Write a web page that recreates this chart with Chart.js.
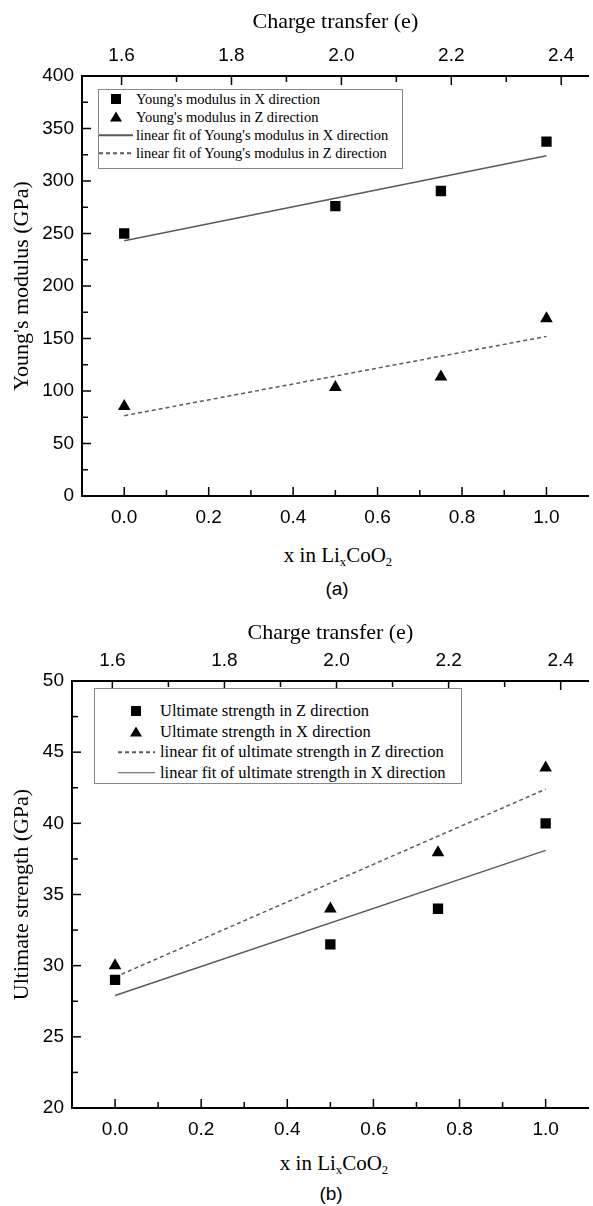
<!DOCTYPE html>
<html>
<head>
<meta charset="utf-8">
<title>Young's modulus and ultimate strength of LixCoO2</title>
<script src="https://cdn.jsdelivr.net/npm/chart.js@4.4.0/dist/chart.umd.min.js"></script>
<style>
  html, body { margin: 0; padding: 0; background: #fff; width: 593px; height: 1206px; overflow: hidden; }
  .panel { position: absolute; left: 0; width: 596px; }
  .xtitle { position: absolute; font-family: "Liberation Serif", serif; font-size: 21px; color: #000;
            transform: translate(-50%, -50%); white-space: nowrap; line-height: 1; }
  .xtitle sub { font-size: 0.6em; vertical-align: -0.35em; line-height: 0; }
  .caption { position: absolute; font-family: "Liberation Sans", Arial, sans-serif; font-size: 19px; color: #000;
             transform: translate(-50%, -50%); line-height: 1; }
  .legend { position: absolute; box-sizing: border-box; border: 1px solid #888; background: #fff;
            font-family: "Liberation Serif", serif; color: #000; }
  .legend .row { position: relative; white-space: nowrap; }
  .legend .mk { position: absolute; top: 50%; }
  .legend .txt { position: absolute; top: 50%; transform: translateY(-50%); line-height: 1; }
  .sq { width: 10px; height: 10px; background: #000; transform: translate(-50%, -50%); }
  .tri { width: 0; height: 0; border-left: 6px solid transparent; border-right: 6px solid transparent;
         border-bottom: 10px solid #000; transform: translate(-50%, -55%); }
  .ln { height: 1.5px; background: #5a5a5a; transform: translateY(-50%); }
  .dash { height: 1.5px; background: repeating-linear-gradient(to right, #5a5a5a 0 4px, transparent 4px 7px);
          transform: translateY(-50%); }
</style>
</head>
<body>

<div class="panel" style="top:0;height:530px"><canvas id="chartA"></canvas></div>
<div class="legend" id="legendA" style="left:98px;top:89px;width:305px;height:80px;font-size:14.5px"></div>
<div class="xtitle" style="left:338px;top:555px">x in Li<sub>x</sub>CoO<sub>2</sub></div>
<div class="caption" style="left:337px;top:588px">(a)</div>

<div class="panel" style="top:600px;height:542px"><canvas id="chartB"></canvas></div>
<div class="legend" id="legendB" style="left:94px;top:688px;width:368px;height:96px;font-size:16.5px;padding-top:12px"></div>
<div class="xtitle" style="left:334px;top:1163px">x in Li<sub>x</sub>CoO<sub>2</sub></div>
<div class="caption" style="left:331px;top:1193px">(b)</div>

<script>
// --- Data ---
const liContent = [0, 0.5, 0.75, 1.0];   // x in LixCoO2
const fitEnds = [0, 1.0];

// (a) Young's modulus (GPa)
const youngX = [250, 276, 290.5, 337.5];
const youngZ = [85.5, 103.5, 113.5, 169];
const youngXFit = [243, 324];
const youngZFit = [76.5, 152];

// (b) Ultimate strength (GPa)
const strengthZ = [29.0, 31.5, 34.0, 40.0];
const strengthX = [30.0, 34.0, 37.95, 43.9];
const strengthZFit = [29.2, 42.4];
const strengthXFit = [27.9, 38.1];

// --- Tick labels ---
const xTicks = [0, 0.2, 0.4, 0.6, 0.8, 1.0];
const chargeTicks = [1.6, 1.8, 2.0, 2.2, 2.4];
const youngTicks = [0, 50, 100, 150, 200, 250, 300, 350, 400];
const strengthTicks = [20, 25, 30, 35, 40, 45, 50];

const SERIF = '"Liberation Serif", "Times New Roman", serif';
const SANS = '"Liberation Sans", Arial, sans-serif';
const FIT_COLOR = '#5a5a5a';

const pts = (xs, ys) => xs.map((x, i) => ({ x, y: ys[i] }));

function markers(label, ys, style) {
  return {
    label, data: pts(liContent, ys), showLine: false,
    pointStyle: style, pointRadius: 7.3, pointHoverRadius: 7.3,
    pointBackgroundColor: '#000', pointBorderColor: '#000', pointBorderWidth: 0
  };
}
function fit(label, ys, dashed) {
  return {
    label, data: pts(fitEnds, ys), showLine: true,
    borderColor: FIT_COLOR, borderWidth: 1.5, borderDash: dashed ? [4, 3] : [],
    pointRadius: 0, pointHoverRadius: 0
  };
}

// ticks pointing into the plot, major + half-step minor
const innerTicks = {
  id: 'innerTicks',
  afterDraw(chart) {
    const { ctx, chartArea: a } = chart;
    ctx.save();
    ctx.strokeStyle = '#000';
    ctx.lineWidth = 1.5;
    Object.values(chart.scales).forEach(s => {
      const vals = s.ticks.map(t => t.value);
      const minors = [];
      for (let i = 0; i < vals.length - 1; i++) minors.push((vals[i] + vals[i + 1]) / 2);
      const mark = (v, len) => {
        const p = s.getPixelForValue(v);
        ctx.beginPath();
        if (s.position === 'bottom') { ctx.moveTo(p, a.bottom); ctx.lineTo(p, a.bottom - len); }
        else if (s.position === 'top') { ctx.moveTo(p, a.top); ctx.lineTo(p, a.top + len); }
        else { ctx.moveTo(a.left, p); ctx.lineTo(a.left + len, p); }
        ctx.stroke();
      };
      vals.forEach(v => mark(v, 9));
      minors.forEach(v => mark(v, 6));
    });
    ctx.restore();
  }
};

function makeChart(id, o) {
  const axisBase = {
    type: 'linear',
    grid: { display: false, drawTicks: false },
    border: { display: true, color: '#000', width: 2 }
  };
  return new Chart(document.getElementById(id), {
    type: 'scatter',
    data: { datasets: o.datasets },
    plugins: [innerTicks],
    options: {
      responsive: true, maintainAspectRatio: false, animation: false,
      layout: { padding: 0 },
      plugins: { legend: { display: false }, tooltip: { enabled: false } },
      scales: {
        x: {
          ...axisBase, position: 'bottom', min: -0.1, max: 1.1,
          afterBuildTicks: s => { s.ticks = xTicks.map(v => ({ value: v })); },
          afterFit: s => { s.height = o.bottomH; },
          ticks: { font: { family: SANS, size: 19 }, color: '#000', padding: 10, callback: v => v.toFixed(1) }
        },
        x2: {
          ...axisBase, position: 'top', min: 1.528, max: 2.45,
          afterBuildTicks: s => { s.ticks = chargeTicks.map(v => ({ value: v })); },
          afterFit: s => { s.height = o.topH; },
          ticks: { font: { family: SANS, size: 19 }, color: '#000', padding: 9, callback: v => v.toFixed(1) },
          title: { display: true, text: 'Charge transfer (e)', color: '#000',
                   font: { family: SERIF, size: 22 }, padding: { top: o.topTitlePad, bottom: 0 } }
        },
        y: {
          ...axisBase, position: 'left', min: o.yMin, max: o.yMax,
          afterBuildTicks: s => { s.ticks = o.yTicks.map(v => ({ value: v })); },
          afterFit: s => { s.width = o.leftW; },
          ticks: { font: { family: SANS, size: 19 }, color: '#000', padding: 8 },
          title: { display: true, text: o.yTitle, color: '#000',
                   font: { family: SERIF, size: 22 }, padding: { top: 9, bottom: 0 } }
        }
      }
    }
  });
}

function buildLegend(elId, chart, dims) {
  const box = document.getElementById(elId);
  chart.data.datasets.forEach(ds => {
    const row = document.createElement('div');
    row.className = 'row';
    row.style.height = dims.rowH + 'px';
    const mk = document.createElement('div');
    mk.className = 'mk';
    if (ds.showLine) {
      mk.className += ds.borderDash.length ? ' dash' : ' ln';
      mk.style.left = dims.lineL + 'px';
      mk.style.width = dims.lineW + 'px';
    } else {
      mk.className += ds.pointStyle === 'rect' ? ' sq' : ' tri';
      mk.style.left = dims.markX + 'px';
    }
    const txt = document.createElement('div');
    txt.className = 'txt';
    txt.style.left = dims.textX + 'px';
    txt.textContent = ds.label;
    row.appendChild(mk);
    row.appendChild(txt);
    box.appendChild(row);
  });
}

const chartA = makeChart('chartA', {
  datasets: [
    markers("Young's modulus in X direction", youngX, 'rect'),
    markers("Young's modulus in Z direction", youngZ, 'triangle'),
    fit("linear fit of Young's modulus in X direction", youngXFit, false),
    fit("linear fit of Young's modulus in Z direction", youngZFit, true)
  ],
  yMin: 0, yMax: 400, yTicks: youngTicks, yTitle: "Young's modulus (GPa)",
  leftW: 82, topH: 76, bottomH: 34, topTitlePad: 9
});

const chartB = makeChart('chartB', {
  datasets: [
    markers('Ultimate strength in Z direction', strengthZ, 'rect'),
    markers('Ultimate strength in X direction', strengthX, 'triangle'),
    fit('linear fit of ultimate strength in Z direction', strengthZFit, true),
    fit('linear fit of ultimate strength in X direction', strengthXFit, false)
  ],
  yMin: 20, yMax: 50, yTicks: strengthTicks, yTitle: 'Ultimate strength (GPa)',
  leftW: 72, topH: 81, bottomH: 34, topTitlePad: 20
});

buildLegend('legendA', chartA, { rowH: 18, lineL: 0, lineW: 34, markX: 17, textX: 37 });
buildLegend('legendB', chartB, { rowH: 20.5, lineL: 23, lineW: 37, markX: 41, textX: 65 });
</script>
</body>
</html>
